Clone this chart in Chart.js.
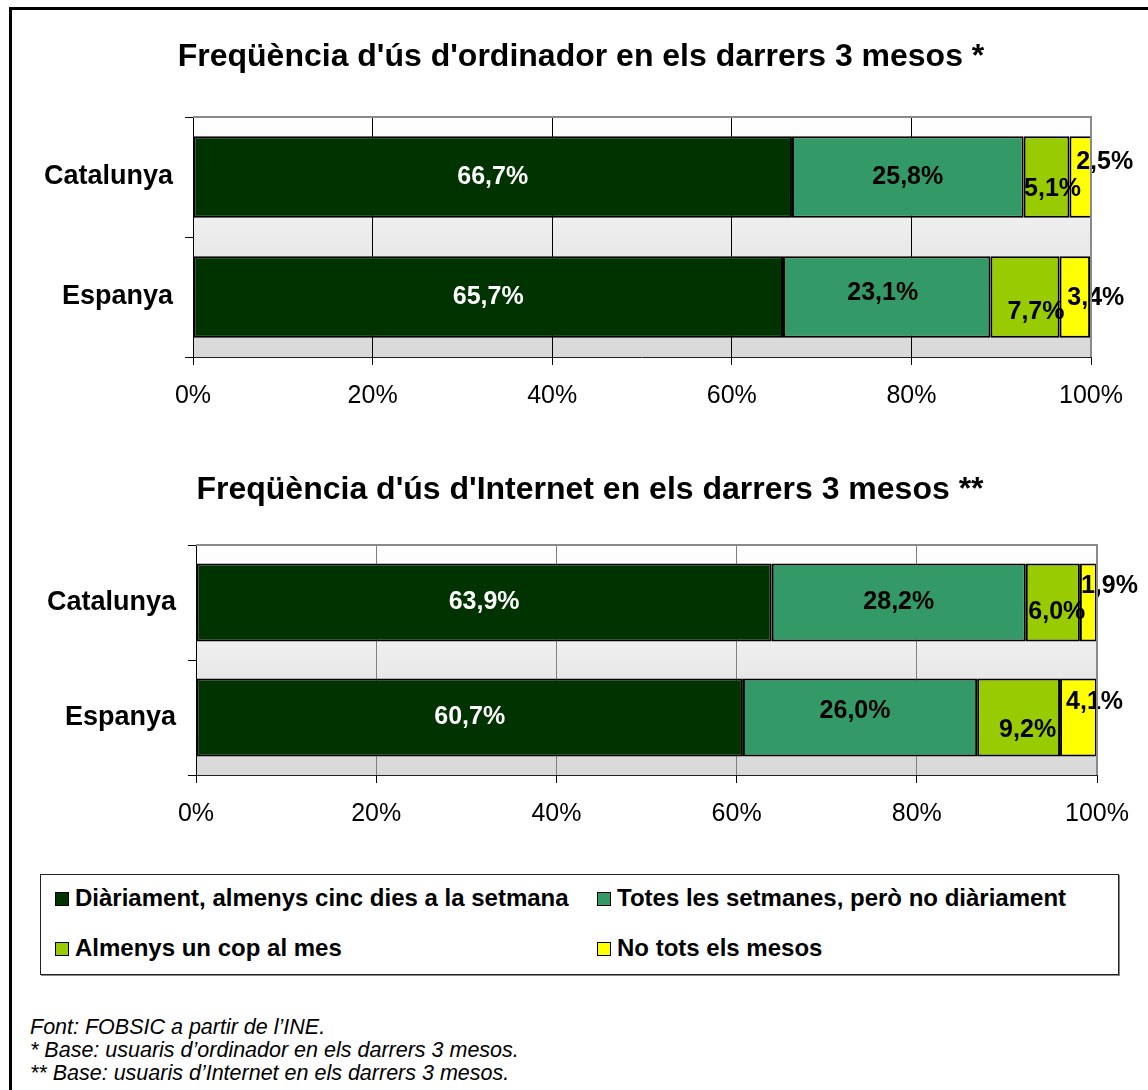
<!DOCTYPE html>
<html>
<head>
<meta charset="utf-8">
<script src="https://cdn.jsdelivr.net/npm/chart.js@4.4.1/dist/chart.umd.min.js"></script>
<style>
  html, body { margin: 0; padding: 0; background: #fff; }
  body { width: 1148px; height: 1090px; position: relative; overflow: hidden; font-family: "Liberation Sans", Arial, sans-serif; }
  #frame { position: absolute; left: 9px; top: 7px; width: 2000px; height: 2000px; border: 3px solid #000; }
  .chartBox { position: absolute; width: 1148px; }
  #legend { position: absolute; left: 40px; top: 874px; width: 1077px; height: 99px; border: 1px solid #222; box-shadow: 1px 1px 0 #888; background: #fff; }
  .item { position: absolute; font-weight: bold; font-size: 24px; color: #000; white-space: nowrap; line-height: 28px; }
  .item span.sw { display: inline-block; width: 12px; height: 12px; border: 1px solid #000; margin-right: 6px; vertical-align: 0px; }
  #notes { position: absolute; left: 30px; top: 1016px; font-style: italic; font-size: 21.5px; line-height: 23px; color: #000; }
</style>
</head>
<body>
<div id="frame"></div>
<div class="chartBox" style="left:7px; top:20px; height:420px;"><canvas id="c1"></canvas></div>
<div class="chartBox" style="left:16px; top:445px; height:420px;"><canvas id="c2"></canvas></div>
<div id="legend"></div>
<div id="notes">
  Font: FOBSIC a partir de l’INE.<br>
  * Base: usuaris d’ordinador en els darrers 3 mesos.<br>
  ** Base: usuaris d’Internet en els darrers 3 mesos.
</div>
<script>
// dades
const regions = ["Catalunya", "Espanya"];
const seriesNames = [
    "Diàriament, almenys cinc dies a la setmana",
    "Totes les setmanes, però no diàriament",
    "Almenys un cop al mes",
    "No tots els mesos"
];
const computerDaily = [66.7, 65.7];
const computerWeekly = [25.8, 23.1];
const computerMonthly = [5.1, 7.7];
const computerRarely = [2.5, 3.4];
const internetDaily = [63.9, 60.7];
const internetWeekly = [28.2, 26.0];
const internetMonthly = [6.0, 9.2];
const internetRarely = [1.9, 4.1];
const xTicks = [0, 20, 40, 60, 80, 100];

const colors = ["#003300", "#339966", "#99CC00", "#FFFF00"];
const labelColors = ["#fff", "#000", "#000", "#000"];
const font = "'Liberation Sans', Arial, sans-serif";

// desplaçament de les etiquetes (com a l'Excel) [dataset][categoria] = [dx, dy]
const shift1 = [
    [[0, 0], [0, 0]],
    [[0, 0], [-4, -4]],
    [[6, 12], [11, 15]],
    [[24, -15], [21, 1]]
];
const shift2 = [
    [[0, 0], [0, 0]],
    [[0, 0], [-5, -6]],
    [[4, 10], [9, 13]],
    [[21, -16], [16, -15]]
];

// fons degradat de l'àrea del gràfic + vora superior i dreta
const plotBg = {
    id: 'plotBg',
    beforeDraw(chart) {
        const a = chart.chartArea;
        const c = chart.ctx;
        const g = c.createLinearGradient(0, a.top, 0, a.bottom);
        g.addColorStop(0, '#ffffff');
        g.addColorStop(1, '#d8d8d8');
        c.save();
        c.fillStyle = g;
        c.fillRect(a.left, a.top, a.right - a.left, a.bottom - a.top);
        c.restore();
    },
    afterDraw(chart) {
        const a = chart.chartArea;
        const c = chart.ctx;
        c.save();
        c.strokeStyle = '#8a8a8a';
        c.lineWidth = 2;
        c.beginPath();
        c.moveTo(a.left, a.top);
        c.lineTo(a.right, a.top);
        c.lineTo(a.right, a.bottom);
        c.stroke();
        c.restore();
    }
};

// títol centrat sobre el canvas
const canvasTitle = {
    id: 'canvasTitle',
    afterDraw(chart, args, opts) {
        const c = chart.ctx;
        c.save();
        c.font = "bold 32px " + font;
        c.fillStyle = '#000';
        c.textAlign = 'center';
        c.textBaseline = 'middle';
        c.fillText(opts.text, chart.width / 2, opts.y);
        c.restore();
    }
};

// etiquetes de valor
const valueLabels = {
    id: 'valueLabels',
    afterDatasetsDraw(chart, args, opts) {
        const c = chart.ctx;
        c.save();
        c.font = "bold 25px " + font;
        c.textAlign = 'center';
        c.textBaseline = 'middle';
        chart.data.datasets.forEach((ds, i) => {
            chart.getDatasetMeta(i).data.forEach((bar, j) => {
                const x = (bar.x + bar.base) / 2 + opts.shift[i][j][0];
                const y = bar.y + opts.shift[i][j][1];
                c.fillStyle = labelColors[i];
                c.fillText(ds.data[j].toFixed(1).replace('.', ',') + '%', x, y);
            });
        });
        c.restore();
    }
};

function makeChart(id, title, series, shift, leftW, rightPad, topPad, titleY, xHeight, gridColor) {
    const datasets = series.map((d, i) => ({
        label: seriesNames[i],
        data: d,
        backgroundColor: colors[i],
        borderColor: '#000',
        borderWidth: 2,
        borderSkipped: false,
        barPercentage: 0.68,
        categoryPercentage: 1
    }));
    return new Chart(document.getElementById(id), {
        type: 'bar',
        data: { labels: regions, datasets: datasets },
        plugins: [plotBg, valueLabels, canvasTitle],
        options: {
            indexAxis: 'y',
            responsive: true,
            maintainAspectRatio: false,
            animation: false,
            layout: { padding: { top: topPad, right: rightPad, bottom: 0, left: 0 } },
            plugins: {
                legend: { display: false },
                tooltip: { enabled: false },
                canvasTitle: { text: title, y: titleY },
                valueLabels: { shift: shift }
            },
            scales: {
                x: {
                    stacked: true,
                    min: 0,
                    max: 100,
                    afterBuildTicks(scale) {
                        scale.ticks = xTicks.map(v => ({ value: v }));
                    },
                    afterFit(scale) { scale.height = xHeight; },
                    ticks: {
                        color: '#000',
                        font: { family: font, size: 25 },
                        padding: 16,
                        callback: v => v + '%'
                    },
                    grid: {
                        color: ctx => (ctx.tick && ctx.tick.value === 100) ? '#8a8a8a' : gridColor,
                        tickColor: '#000',
                        tickLength: 8,
                        lineWidth: 1
                    },
                    border: { color: '#222', width: 1 }
                },
                y: {
                    stacked: true,
                    afterFit(scale) { scale.width = leftW; },
                    ticks: {
                        color: '#000',
                        font: { family: font, size: 27, weight: 'bold' },
                        padding: 12
                    },
                    grid: {
                        drawOnChartArea: false,
                        tickColor: '#000',
                        tickLength: 8
                    },
                    border: { color: '#000', width: 1 }
                }
            }
        }
    });
}

// gràfic 1: títol a y 57, àrea de 117 a 357
makeChart('c1', "Freqüència d'ús d'ordinador en els darrers 3 mesos *",
    [computerDaily, computerWeekly, computerMonthly, computerRarely], shift1,
    186, 64, 97, 37, 83, '#000');

// gràfic 2: títol a y 490, àrea de 545 a 775
makeChart('c2', "Freqüència d'ús d'Internet en els darrers 3 mesos **",
    [internetDaily, internetWeekly, internetMonthly, internetRarely], shift2,
    180, 67, 100, 45, 90, '#808080');

// llegenda
const legend = document.getElementById('legend');
const pos = [[14, 9], [556, 9], [14, 59], [556, 59]];
seriesNames.forEach((name, i) => {
    const d = document.createElement('div');
    d.className = 'item';
    d.style.left = pos[i][0] + 'px';
    d.style.top = pos[i][1] + 'px';
    d.innerHTML = '<span class="sw" style="background:' + colors[i] + '"></span>' + name;
    legend.appendChild(d);
});
</script>
</body>
</html>
